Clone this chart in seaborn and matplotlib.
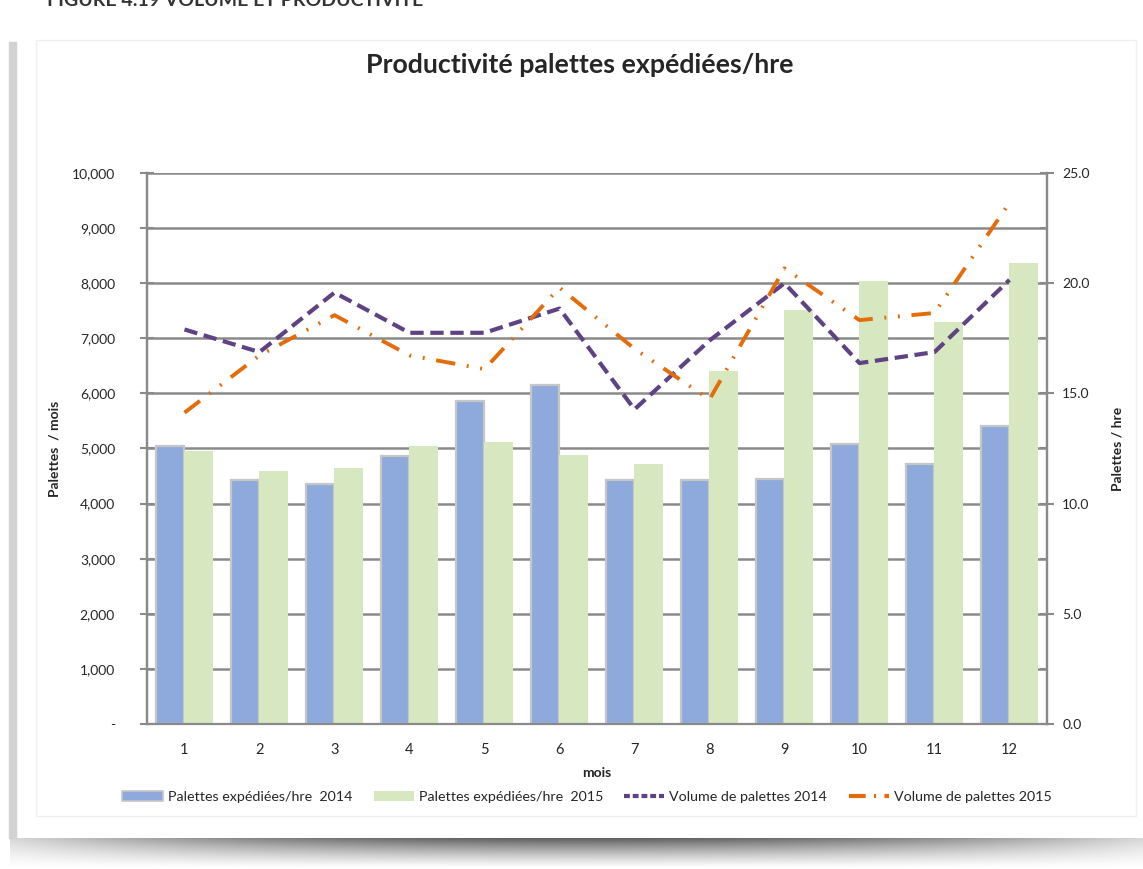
# Load the necessary libraries
import matplotlib
matplotlib.use("Agg")
import matplotlib.pyplot as plt
import matplotlib.ticker as mticker
from matplotlib.patches import Rectangle, Patch
from matplotlib.lines import Line2D
import seaborn as sns
import numpy as np
import pandas as pd

# Data
mois = list(range(1, 13))
prod_2014 = [12.6, 11.05, 10.9, 12.15, 14.65, 15.4, 11.05, 11.05, 11.1, 12.7, 11.8, 13.5]
prod_2015 = [12.4, 11.5, 11.6, 12.6, 12.8, 12.2, 11.8, 16.0, 18.8, 20.1, 18.25, 20.9]
volume_2014 = [7160, 6750, 7830, 7100, 7100, 7540, 5710, 6960, 8000, 6550, 6750, 8060]
volume_2015 = [5650, 6690, 7420, 6690, 6440, 7920, 6810, 5890, 8270, 7330, 7460, 9460]

blue = "#8EA9DB"
green = "#D7E8C0"
purple = "#5F4283"
orange = "#E46C0A"
axis_grey = "#8A8A8A"

sns.set_style("white")
plt.rcParams["font.family"] = ["Lato", "DejaVu Sans"]

fig = plt.figure(figsize=(11.43, 8.69), dpi=100)

# background frame / shadow
bg = fig.add_axes([0, 0, 1, 1], zorder=-10)
bg.axis("off")
rows = np.linspace(0, 1, 30)[:, None]
cols = np.linspace(0, 1, 400)[None, :]
shade = (1 - rows) ** 1.3 * (1 - 0.75 * ((cols - 0.5) * 2) ** 2)
grad = 1 - 0.62 * shade
bg.imshow(grad, extent=(10, 1143, 869, 838), cmap="gray", vmin=0, vmax=1, aspect="auto")
bg.add_patch(Rectangle((9, 42), 7, 796, color="#d2d2d2"))
bg.add_patch(Rectangle((36, 40), 1100, 776, fill=False, edgecolor="#f0f0f0", lw=1))
bg.set_xlim(0, 1143)
bg.set_ylim(869, 0)
bg.text(47, 0, "FIGURE 4.19 VOLUME ET PRODUCTIVITÉ", va="center", ha="left",
        fontsize=14, fontweight="bold", color="#333333")

# main axes: lines on the left axis, bars on the right axis
ax = fig.add_axes([0.1286, 0.1669, 0.7874, 0.634])
ax2 = ax.twinx()
ax.set_zorder(ax2.get_zorder() + 1)
ax.patch.set_visible(False)

df = pd.DataFrame({
    "mois": [str(m) for m in mois] * 2,
    "prod": prod_2014 + prod_2015,
    "annee": ["2014"] * 12 + ["2015"] * 12,
})
sns.barplot(data=df, x="mois", y="prod", hue="annee", palette=[blue, green],
            saturation=1, width=0.76, gap=0, ax=ax2, legend=False, linewidth=0)
for bar in ax2.containers[0]:
    bar.set_edgecolor("#C6C6C6")
    bar.set_linewidth(1.6)

x = np.arange(12)
sns.lineplot(x=x, y=volume_2014, ax=ax, color=purple, lw=3,
             linestyle=(0, (3.2, 1.6)))
sns.lineplot(x=x, y=volume_2015, ax=ax, color=orange, lw=2.8,
             linestyle=(0, (5, 3, 0.5, 3, 0.5, 3)))

# axes limits and ticks
ax.set_xlim(-0.5, 11.5)
ax.set_ylim(0, 10000)
ax2.set_ylim(0, 25)
ax.yaxis.set_major_locator(mticker.MultipleLocator(1000))
ax.yaxis.set_major_formatter(mticker.FuncFormatter(lambda v, p: "-" if v == 0 else f"{v:,.0f}"))
ax2.yaxis.set_major_locator(mticker.MultipleLocator(5))
ax2.yaxis.set_minor_locator(mticker.MultipleLocator(2.5))
ax2.yaxis.set_major_formatter(mticker.FormatStrFormatter("%.1f"))

ax.set_xticks(x)
ax.set_xticklabels([str(m) for m in mois])
ax.set_xticks(np.arange(-0.5, 12, 1), minor=True)
ax.tick_params(axis="x", which="major", length=0, pad=14, labelsize=10.5)
ax.tick_params(axis="x", which="minor", length=6, width=1.5, color=axis_grey, direction="out")
ax.tick_params(axis="y", which="major", length=10, width=1.5, color=axis_grey,
               direction="inout", pad=18, labelsize=10)
ax2.tick_params(axis="y", which="major", length=10, width=1.5, color=axis_grey,
                direction="inout", pad=6, labelsize=10)
ax2.tick_params(axis="y", which="minor", length=5, width=1.5, color=axis_grey,
                direction="in")
ax2.tick_params(axis="x", which="both", length=0, labelbottom=False)

# grid behind bars
ax2.set_axisbelow(True)
ax2.yaxis.grid(True, which="both", color=axis_grey, lw=1.8)
ax.grid(False)

for a in (ax, ax2):
    for s in a.spines.values():
        s.set_color(axis_grey)
        s.set_linewidth(1.6)
    a.spines["top"].set_visible(False)
ax2.spines["bottom"].set_visible(False)

ax.set_xlabel("mois", fontsize=10, fontweight="bold", labelpad=7)
ax.set_ylabel("Palettes  / mois", fontsize=10, fontweight="bold", labelpad=8)
ax2.set_ylabel("Palettes / hre", fontsize=10, fontweight="bold", labelpad=16)
ax2.set_xlabel("")

fig.text(0.507, 0.925, "Productivité palettes expédiées/hre", ha="center", va="center",
         fontsize=19.3, fontweight="bold")

handles = [
    Patch(facecolor=blue, edgecolor="#C6C6C6", lw=1.2),
    Patch(facecolor=green, edgecolor="none"),
    Line2D([0], [0], color=purple, lw=3, linestyle=(0, (1.4, 0.7))),
    Line2D([0], [0], color=orange, lw=3, linestyle=(0, (4, 2, 0.5, 2))),
]
labels = ["Palettes expédiées/hre  2014", "Palettes expédiées/hre  2015",
          "Volume de palettes 2014", "Volume de palettes 2015"]
fig.legend(handles, labels, loc="center", bbox_to_anchor=(0.5136, 0.083), ncol=4,
           frameon=False, fontsize=10.3, handlelength=2.8, handletextpad=0.35,
           columnspacing=1.5, handleheight=0.75)

# Save the image
fig.savefig("out.png", dpi=100)
